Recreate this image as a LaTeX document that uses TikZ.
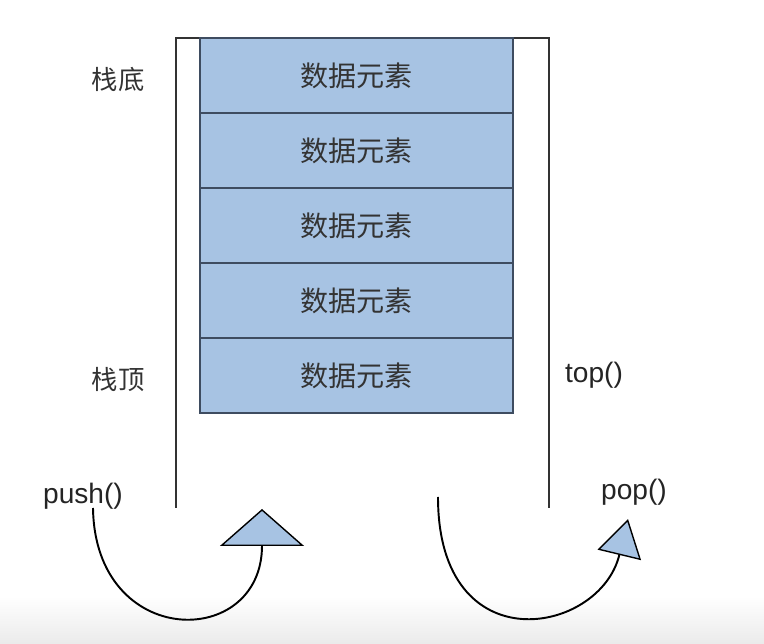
\documentclass[tikz,border=0pt]{standalone}
\usepackage{fontspec}
\setmainfont{Liberation Sans}
\newfontfamily\cjk{Noto Sans CJK SC}
\usepackage{tikz}
\usetikzlibrary{arrows.meta}
\definecolor{cellblue}{HTML}{A7C3E3}
\definecolor{celledge}{HTML}{3E4C60}
\definecolor{txtgray}{HTML}{333333}
\tikzset{cell/.style={draw=celledge, fill=cellblue, line width=0.9pt, minimum width=6.26cm, minimum height=1.5cm, inner sep=0pt, text=txtgray, font=\cjk\fontsize{16}{18}\selectfont},
side/.style={text=txtgray, font=\cjk\fontsize{15}{18}\selectfont},
call/.style={text=txtgray!70!black, font=\fontsize{16}{18}\selectfont},
% curved arrow with a big blue triangle
turn/.style={line width=1.1pt, -{Triangle[width=#1, length=0.74cm, fill=cellblue, line width=0.8pt]}},
turn/.default={1.68cm}}

\begin{document}
\begin{tikzpicture}[x=0.02cm, y=-0.02cm]
        \useasboundingbox (0,0) rectangle (764,644);
        \shade[top color=white, bottom color=gray!16] (0,596) rectangle (764,644);

        % container
        \draw[line width=1pt, gray!40!black] (176,508) -- (176,38) -- (549,38) -- (549,508);

        % cells
        \foreach \i in {1,...,5}{
            \node[cell] (e\i) at (356.5,{75.5+75*(\i-1)}) {数据元素};
        }

        % labels
        \node[side] (bottom) at (118,80) {栈底};
        \node[side] (topl) at (118,380) {栈顶};
        \node[call] (top) at (594,375) {top()};
        \node[call] (push) at (83,496) {push()};
        \node[call] (pop) at (634,492) {pop()};

        % arrows
        \coordinate (pushs) at (93,508);
        \coordinate (pushe) at (262,509);
        \coordinate (pops) at (438,497);
        \coordinate (pope) at (628,519);
        \draw[turn] (pushs) .. controls (95,650) and (262,650) .. (pushe);
        \draw[turn=0.89cm] (pops) .. controls (438,665) and (600,635) .. (pope);

    \end{tikzpicture}
\end{document}
